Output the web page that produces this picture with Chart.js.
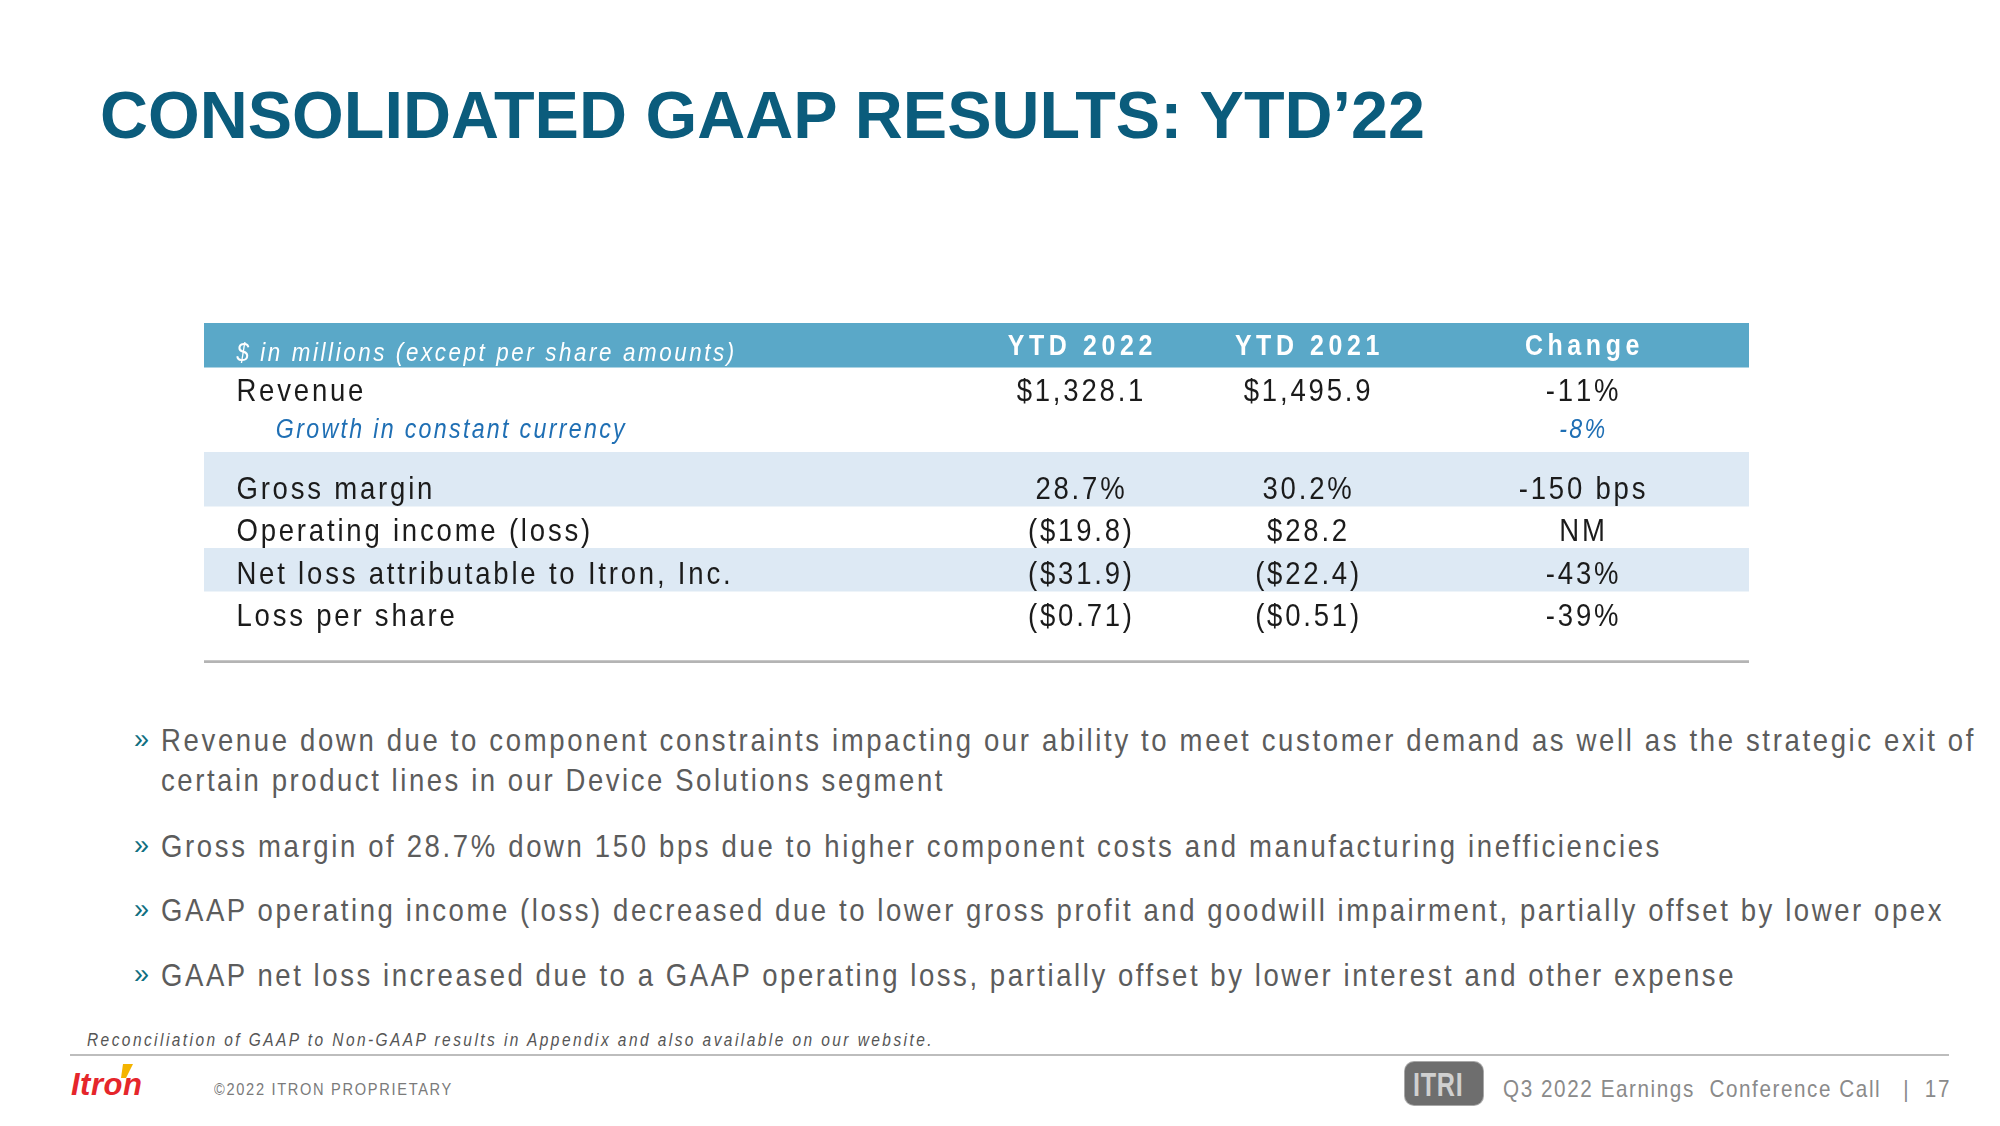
<!DOCTYPE html>
<html lang="en">
<head>
<meta charset="UTF-8">
<title>Consolidated GAAP Results: YTD'22</title>
<script src="https://cdn.jsdelivr.net/npm/chart.js"></script>
<style>
  html, body { margin: 0; padding: 0; background: #fff; }
  body { width: 2000px; height: 1126px; position: relative; overflow: hidden; font-family: "Liberation Sans", Arial, sans-serif; }
  .t { position: absolute; white-space: pre; line-height: 1; transform-origin: left top; }
  #title { left: 100px; top: 81px; font-size: 67px; font-weight: bold; color: #0b5c7c; }
  .bullet { color: #5c5c5c; font-size: 32px; }
  .chev { position: absolute; color: #0e6e80; font-size: 27px; line-height: 1; }
  #tableWrap { position: absolute; left: 204px; top: 323px; width: 1545px; height: 341px; }
  .rule { position: absolute; height: 2px; background: #bdbdbd; }
  #itri { position: absolute; left: 1405px; top: 1062px; width: 78px; height: 43px; border-radius: 9px; background: #6e6e6e; box-shadow: 0 0 0 1px #a8a8a8; }
  #itri span { position: absolute; left: 8px; top: 5px; color: #d0d0d0; font-weight: bold; font-size: 34px; line-height: 1; transform: scaleX(0.74); transform-origin: left top; letter-spacing: 1px; }
</style>
</head>
<body>
<div id="title" class="t">CONSOLIDATED GAAP RESULTS: YTD’22</div>

<div id="tableWrap"><canvas id="gaapTable" width="1545" height="341"></canvas></div>

<div class="chev" style="left:134px;top:726px">»</div>
<div class="t bullet fit" data-cy="740" data-x="161" data-w="1815">Revenue down due to component constraints impacting our ability to meet customer demand as well as the strategic exit of</div>
<div class="t bullet fit" data-cy="780" data-x="161" data-w="784">certain product lines in our Device Solutions segment</div>
<div class="chev" style="left:134px;top:832px">»</div>
<div class="t bullet fit" data-cy="846" data-x="161" data-w="1501">Gross margin of 28.7% down 150 bps due to higher component costs and manufacturing inefficiencies</div>
<div class="chev" style="left:134px;top:896px">»</div>
<div class="t bullet fit" data-cy="910" data-x="161" data-w="1783">GAAP operating income (loss) decreased due to lower gross profit and goodwill impairment, partially offset by lower opex</div>
<div class="chev" style="left:134px;top:961px">»</div>
<div class="t bullet fit" data-cy="975" data-x="161" data-w="1575">GAAP net loss increased due to a GAAP operating loss, partially offset by lower interest and other expense</div>

<div class="t fit" data-cy="1040" data-x="87" data-w="847" style="font-size:18px;font-style:italic;color:#555">Reconciliation of GAAP to Non-GAAP results in Appendix and also available on our website.</div>
<div class="rule" style="left:70px;top:1054px;width:1879px"></div>

<div class="t" style="left:71px;top:1069px;font-size:31px;font-weight:bold;font-style:italic;color:#e5262b;letter-spacing:0.5px">Itron</div>
<svg style="position:absolute;left:117px;top:1064px" width="18" height="16"><polygon points="6,0 16,0 9,14 4,14" fill="#f4b400"/></svg>
<div class="t fit" data-cy="1089" data-x="214" data-w="239" style="font-size:17px;color:#7a7a7a">©2022 ITRON PROPRIETARY</div>

<div id="itri"><span>ITRI</span></div>
<div class="t fit" data-cy="1089" data-x="1503" data-w="448" style="font-size:24px;color:#8a8a8a">Q3 2022 Earnings  Conference Call   |  17</div>

<script>
// ---- table data ----
const headerLabels = ['$ in millions (except per share amounts)', 'YTD 2022', 'YTD 2021', 'Change'];
const rowLabels = ['Revenue', 'Growth in constant currency', 'Gross margin', 'Operating income (loss)',
                   'Net loss attributable to Itron, Inc.', 'Loss per share'];
const ytd2022 = ['$1,328.1', '', '28.7%', '($19.8)', '($31.9)', '($0.71)'];
const ytd2021 = ['$1,495.9', '', '30.2%', '$28.2', '($22.4)', '($0.51)'];
const changes = ['-11%', '-8%', '-150 bps', 'NM', '-43%', '-39%'];

// ---- layout (row units on y, percent of table width on x) ----
const rowLine = [1.1, 2.0, 3.4, 4.4, 5.4, 6.4];
const subRow = 1;              // the indented blue italic row
const colX = [2.1, 56.7, 71.4, 89.2];
const headerBand = [-0.52, 0.52];
const shadeBands = [[2.52, 3.79], [4.78, 5.79]];
const bottomRule = [7.42, 7.47];

function hasFont(name) {
  const c = document.createElement('canvas').getContext('2d');
  c.font = '40px monospace';
  const a = c.measureText('abcdefgWWiil0123').width;
  c.font = '40px "' + name + '", monospace';
  return c.measureText('abcdefgWWiil0123').width !== a;
}
// the slide uses a narrow face; squeeze regular glyphs if no narrow face is installed
const NARROW = hasFont('Liberation Sans Narrow');
const FAM = NARROW ? '"Liberation Sans Narrow", sans-serif' : '"Liberation Sans", Arial, sans-serif';
const K = NARROW ? 1 : 0.86;
const SP = NARROW ? { body: 3.3, head: 5.5, ital: 3, sub: 2.8 } : { body: 2.8, head: 4.6, ital: 2.6, sub: 2.3 };

// draws text char by char, squeezed by K, with extra spacing
function spaced(ctx, text, x, y, align, ls) {
  const chars = Array.from(text);
  const widths = chars.map(ch => ctx.measureText(ch).width * K);
  const total = widths.reduce((a, b) => a + b, 0) + ls * (chars.length - 1);
  let px = align === 'center' ? x - total / 2 : align === 'right' ? x - total : x;
  ctx.textAlign = 'left';
  chars.forEach((ch, i) => {
    ctx.save();
    ctx.translate(px, y);
    ctx.scale(K, 1);
    ctx.fillText(ch, 0, 0);
    ctx.restore();
    px += widths[i] + ls;
  });
}

const tableText = {
  id: 'tableText',
  afterDatasetsDraw(chart) {
    const ctx = chart.ctx;
    const ys = chart.scales.y, xs = chart.scales.cols;
    ctx.save();
    ctx.textBaseline = 'middle';

    // header row
    ctx.fillStyle = '#ffffff';
    ctx.font = 'italic 26px ' + FAM;
    spaced(ctx, headerLabels[0], xs.getPixelForValue(colX[0]), ys.getPixelForValue(0.2), 'left', SP.ital);
    ctx.font = 'bold 29px ' + FAM;
    for (let j = 1; j < headerLabels.length; j++) {
      spaced(ctx, headerLabels[j], xs.getPixelForValue(colX[j]), ys.getPixelForValue(0.05), 'center', SP.head);
    }

    // body rows
    rowLabels.forEach((lab, i) => {
      const y = ys.getPixelForValue(rowLine[i]);
      if (i === subRow) {
        ctx.fillStyle = '#1f6fb4';
        ctx.font = 'italic 27px ' + FAM;
        spaced(ctx, lab, xs.getPixelForValue(colX[0] + 2.55), y, 'left', SP.sub);
        spaced(ctx, changes[i], xs.getPixelForValue(colX[3]), y, 'center', SP.sub);
        return;
      }
      ctx.fillStyle = '#1b1b1b';
      ctx.font = '32px ' + FAM;
      spaced(ctx, lab, xs.getPixelForValue(colX[0]), y, 'left', SP.body);
      spaced(ctx, ytd2022[i], xs.getPixelForValue(colX[1]), y, 'center', SP.body);
      spaced(ctx, ytd2021[i], xs.getPixelForValue(colX[2]), y, 'center', SP.body);
      spaced(ctx, changes[i], xs.getPixelForValue(colX[3]), y, 'center', SP.body);
    });
    ctx.restore();
  }
};

function band(range, color) {
  return { data: [range], backgroundColor: color, borderWidth: 0, grouped: false,
           categoryPercentage: 1, barPercentage: 1 };
}

new Chart(document.getElementById('gaapTable'), {
  type: 'bar',
  data: {
    labels: ['table'],
    datasets: [
      band(headerBand, '#5aa8c8'),
      ...shadeBands.map(b => band(b, '#dde9f4')),
      band(bottomRule, '#b4b4b4')
    ]
  },
  options: {
    responsive: false,
    animation: false,
    events: [],
    layout: { padding: 0 },
    plugins: { legend: { display: false }, tooltip: { enabled: false }, title: { display: false } },
    scales: {
      x: { type: 'category', display: false, offset: true },
      cols: { type: 'linear', axis: 'x', display: false, offset: false, min: 0, max: 100 },
      y: { type: 'linear', display: false, reverse: true, min: headerBand[0], max: 7.5 }
    }
  },
  plugins: [tableText]
});

// ---- slide text fitting: squeeze by K, then spread letters to the measured width ----
document.querySelectorAll('.fit').forEach(el => {
  const size = parseFloat(getComputedStyle(el).fontSize);
  el.style.fontFamily = FAM;
  el.style.left = el.dataset.x + 'px';
  el.style.top = (parseFloat(el.dataset.cy) - 0.49 * size) + 'px';
  el.style.letterSpacing = '0px';
  const w = el.getBoundingClientRect().width;
  const n = el.textContent.length;
  el.style.letterSpacing = ((parseFloat(el.dataset.w) / K - w) / n) + 'px';
  el.style.transform = 'scaleX(' + K + ')';
});
const title = document.getElementById('title');
title.style.transform = 'scaleX(' + (1325 / title.getBoundingClientRect().width) + ')';
</script>
</body>
</html>
